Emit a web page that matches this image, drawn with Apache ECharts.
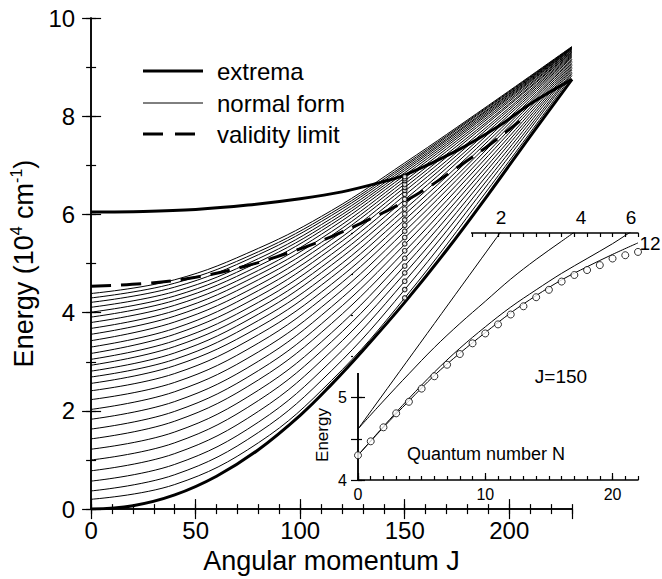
<!DOCTYPE html>
<html><head><meta charset="utf-8">
<script src="https://cdn.jsdelivr.net/npm/echarts@6.0.0/dist/echarts.min.js"></script>
<style>html,body{margin:0;padding:0;background:#fff}#c{width:662px;height:579px}</style>
</head><body><div id="c"></div>
<script>
// ---------------- DATA ----------------
// Normal-form curves: energy of each level (index 0..28) at sampled J
const fanJ = [0, 40, 80, 115, 150, 190, 230];
const fanAtJ0   = [0.20,0.37,0.57,0.78,1.00,1.22,1.43,1.63,1.83,2.03,2.23,2.41,2.56,2.69,2.81,2.93,3.05,3.17,3.30,3.43,3.56,3.68,3.80,3.91,4.01,4.11,4.21,4.30,4.39];
const fanAtJ40  = [0.50,0.70,0.91,1.13,1.35,1.57,1.79,1.99,2.19,2.39,2.58,2.76,2.92,3.05,3.18,3.31,3.43,3.56,3.68,3.81,3.93,4.04,4.15,4.25,4.34,4.43,4.52,4.60,4.67];
const fanAtJ80  = [1.35,1.56,1.77,1.99,2.21,2.42,2.63,2.82,3.01,3.20,3.38,3.55,3.70,3.84,3.97,4.09,4.21,4.33,4.45,4.56,4.67,4.77,4.86,4.95,5.03,5.10,5.18,5.24,5.31];
const fanAtJ115 = [2.62,2.82,3.02,3.22,3.41,3.59,3.78,3.95,4.12,4.28,4.44,4.58,4.72,4.84,4.97,5.08,5.19,5.30,5.39,5.49,5.57,5.65,5.73,5.80,5.86,5.92,5.98,6.03,6.08];
const fanAtJ150 = [4.30,4.47,4.64,4.80,4.955,5.105,5.25,5.39,5.525,5.655,5.775,5.89,6.00,6.105,6.205,6.30,6.39,6.475,6.55,6.62,6.685,6.745,6.80,6.85,6.895,6.935,6.975,7.01,7.05];
const fanAtJ190 = [6.52,6.63,6.73,6.83,6.93,7.02,7.11,7.20,7.28,7.36,7.43,7.50,7.57,7.64,7.70,7.76,7.81,7.87,7.91,7.96,8.00,8.04,8.07,8.10,8.13,8.15,8.18,8.20,8.22];
const fanAtJ230 = [8.83,8.87,8.90,8.94,8.97,9.00,9.03,9.06,9.09,9.12,9.15,9.17,9.20,9.22,9.24,9.26,9.28,9.30,9.31,9.33,9.34,9.36,9.37,9.38,9.39,9.40,9.40,9.41,9.42];
const fanColumns = [fanAtJ0, fanAtJ40, fanAtJ80, fanAtJ115, fanAtJ150, fanAtJ190, fanAtJ230];

// Extrema (thick) curves
const lowerJ = [0, 20, 40, 60, 80, 100, 115, 130, 150, 170, 190, 210, 230];
const lowerE = [0, 0.07, 0.29, 0.67, 1.21, 1.91, 2.54, 3.23, 4.21, 5.27, 6.41, 7.59, 8.75];
const upperJ = [0, 25, 50, 75, 100, 120, 140, 150, 175, 195, 210, 230];
const upperE = [6.05, 6.06, 6.10, 6.19, 6.32, 6.46, 6.67, 6.80, 7.30, 7.80, 8.25, 8.75];
// Validity limit (dashed)
const limitJ = [0, 25, 50, 75, 100, 115, 130, 145, 160, 175, 190, 205];
const limitE = [4.54, 4.59, 4.72, 4.96, 5.30, 5.55, 5.84, 6.15, 6.52, 6.95, 7.40, 7.90];

// Quantum levels at J = 150 (circles)
const levelJ = 150;
const quantumN = [0,1,2,3,4,5,6,7,8,9,10,11,12,13,14,15,16,17,18,19,20,21,22];
const quantumE = [4.30,4.47,4.64,4.81,4.95,5.11,5.26,5.40,5.53,5.66,5.78,5.89,6.01,6.11,6.22,6.31,6.41,6.49,6.55,6.61,6.69,6.73,6.77];

// Inset: normal-form orders 2, 4, 6, 12
const order2N = [0, 12];
const order2E = [4.62, 7.18];
const order4N = [0, 2, 4, 6, 8, 10, 12, 14, 16, 18];
const order4E = [4.62, 4.96, 5.29, 5.61, 5.90, 6.17, 6.44, 6.68, 6.90, 7.12];
const order6N = [0, 2, 4, 6, 8, 10, 12, 14, 16, 18, 20, 21, 22];
const order6E = [4.30, 4.65, 4.99, 5.31, 5.60, 5.86, 6.10, 6.31, 6.51, 6.69, 6.87, 6.97, 7.07];
const order12N = [0, 2, 4, 6, 8, 10, 12, 14, 16, 18, 20, 22];
const order12E = [4.30, 4.64, 4.96, 5.27, 5.54, 5.79, 6.03, 6.24, 6.43, 6.59, 6.74, 6.88];

const legendNames = ['extrema', 'normal form', 'validity limit'];
const xTitle = 'Angular momentum J';
const insetXTitle = 'Quantum number N';
const insetYTitle = 'Energy';
const insetNote = 'J=150';
const orderLabels = ['2', '4', '6', '12'];

// ---------------- CHART ----------------
const FONT = 'Liberation Sans, Arial, Helvetica, sans-serif';
const BLACK = '#000';
const zip = (a, b) => a.map((v, i) => [v, b[i]]);

function ax(extra) {
  const base = {
    type: 'value', z: 0,
    splitLine: { show: false },
    axisLine: { show: false, lineStyle: { color: BLACK, width: 1.5 } },
    axisTick: { show: true, inside: true, length: 5, lineStyle: { color: BLACK, width: 1.2 } },
    axisLabel: { show: false },
  };
  const out = Object.assign({}, base, extra);
  if (extra.axisTick) out.axisTick = Object.assign({}, base.axisTick, extra.axisTick);
  if (extra.axisLine) out.axisLine = Object.assign({}, base.axisLine, extra.axisLine);
  return out;
}

const xAxes = [
  ax({ gridIndex: 0, position: 'bottom', min: 0, max: 230, interval: 50,
       axisLine: { show: true }, axisTick: { length: 10 },
       axisLabel: { show: true, margin: 9, fontSize: 24, color: BLACK, fontFamily: FONT, showMaxLabel: false },
       name: xTitle, nameLocation: 'middle', nameGap: 37,
       nameTextStyle: { fontSize: 27, color: BLACK, fontFamily: FONT } }),
  ax({ gridIndex: 0, position: 'bottom', min: 0, max: 230, interval: 10 }),
  ax({ gridIndex: 0, position: 'top', min: 0, max: 230, interval: 50, axisLine: { show: true }, axisTick: { length: 10 } }),
  ax({ gridIndex: 0, position: 'top', min: 0, max: 230, interval: 10 }),
  // inset
  ax({ gridIndex: 1, position: 'bottom', min: 0, max: 22, interval: 10, z: 2,
       axisLine: { show: true }, axisTick: { length: 7 },
       axisLabel: { show: true, margin: 6, fontSize: 16, color: BLACK, fontFamily: FONT, showMaxLabel: false } }),
  ax({ gridIndex: 1, position: 'bottom', min: 0, max: 22, interval: 1, z: 2, axisTick: { length: 4 } }),
  ax({ gridIndex: 1, position: 'top', min: 0, max: 22, interval: 1, z: 2, axisLine: { show: true }, axisTick: { length: 4 } }),
];
const yAxes = [
  ax({ gridIndex: 0, position: 'left', min: 0, max: 10, interval: 2,
       axisLine: { show: true }, axisTick: { length: 10 },
       axisLabel: { show: true, margin: 16, fontSize: 24, color: BLACK, fontFamily: FONT },
       name: '{a|Energy (10}{s|4}{a| cm}{s|-1}{a|)}', nameLocation: 'middle', nameGap: 37, nameRotate: 90,
       nameTextStyle: { rich: {
         a: { fontSize: 27, color: BLACK, fontFamily: FONT, lineHeight: 32 },
         s: { fontSize: 16, color: BLACK, fontFamily: FONT, lineHeight: 16, verticalAlign: 'top' } } } }),
  ax({ gridIndex: 0, position: 'left', min: 0, max: 10, interval: 1 }),
  ax({ gridIndex: 0, position: 'right', min: 0, max: 10, interval: 2, axisLine: { show: true }, axisTick: { length: 9 } }),
  ax({ gridIndex: 0, position: 'right', min: 0, max: 10, interval: 1 }),
  // inset
  ax({ gridIndex: 1, position: 'left', min: 4, max: 7, interval: 1, z: 2,
       axisLine: { show: true }, axisTick: { length: 7 },
       axisLabel: { show: true, margin: 11, fontSize: 16, color: BLACK, fontFamily: FONT,
                    formatter: v => (v === 4 || v === 5) ? String(v) : '' } }),
  ax({ gridIndex: 1, position: 'left', min: 4, max: 7, interval: 0.5, z: 2, axisTick: { length: 4 } }),
  ax({ gridIndex: 1, position: 'right', min: 4, max: 7, interval: 0.5, z: 2, axisLine: { show: true }, axisTick: { length: 7 } }),
];

const series = [];
for (let n = 0; n < fanAtJ0.length; n++) {
  series.push({
    name: 'normal form', type: 'line', xAxisIndex: 0, yAxisIndex: 0, z: 5,
    data: fanJ.map((j, i) => [j, fanColumns[i][n]]),
    symbol: 'none', smooth: 0.4, silent: true,
    lineStyle: { color: BLACK, width: 1 }
  });
}
series.push({ name: 'extrema', type: 'line', xAxisIndex: 0, yAxisIndex: 0, z: 6,
  data: zip(lowerJ, lowerE), symbol: 'none', smooth: 0.4,
  lineStyle: { color: BLACK, width: 3 } });
series.push({ name: 'extrema', type: 'line', xAxisIndex: 0, yAxisIndex: 0, z: 6,
  data: zip(upperJ, upperE), symbol: 'none', smooth: 0.35,
  lineStyle: { color: BLACK, width: 3 } });
series.push({ name: 'validity limit', type: 'line', xAxisIndex: 0, yAxisIndex: 0, z: 6,
  data: zip(limitJ, limitE), symbol: 'none', smooth: 0.35,
  lineStyle: { color: BLACK, width: 3, type: [20, 10] } });
series.push({ name: 'levels', type: 'scatter', xAxisIndex: 0, yAxisIndex: 0, z: 7,
  data: quantumE.map(e => [levelJ, e]), symbol: 'circle', symbolSize: 4.5,
  itemStyle: { color: '#fff', borderColor: BLACK, borderWidth: 1.2 } });

const insetLine = (name, xs, ys) => ({ name, type: 'line', xAxisIndex: 4, yAxisIndex: 4, z: 5,
  data: zip(xs, ys), symbol: 'none', smooth: 0.35,
  lineStyle: { color: BLACK, width: 1 } });
series.push(insetLine('order 2', order2N, order2E));
series.push(insetLine('order 4', order4N, order4E));
series.push(insetLine('order 6', order6N, order6E));
series.push(insetLine('order 12', order12N, order12E));
series.push({ name: 'quantum', type: 'scatter', xAxisIndex: 4, yAxisIndex: 4, z: 7,
  data: zip(quantumN, quantumE), symbol: 'circle', symbolSize: 7,
  itemStyle: { color: '#fff', borderColor: BLACK, borderWidth: 1 } });

const txt = (text, x, y, size, extra, align) => Object.assign({
  type: 'text', x, y, z: 8,
  style: { text, fontSize: size, fontFamily: FONT, fill: BLACK, align: align || 'center', verticalAlign: 'middle' }
}, extra || {});
const legLine = (y, w, dash) => ({ type: 'line', z: 8,
  shape: { x1: 143, y1: y, x2: 203, y2: y },
  style: { stroke: BLACK, lineWidth: w, lineDash: dash || null } });

const option = {
  animation: false,
  backgroundColor: '#fff',
  grid: [
    { left: 86, top: 18, width: 486, height: 495 },
    { left: 358, top: 233, width: 280, height: 247 }
  ],
  xAxis: xAxes,
  yAxis: yAxes,
  graphic: [
    // hide the main frame's right edge behind the inset
    { type: 'rect', z: 1, shape: { x: 562, y: 235, width: 14, height: 243 }, style: { fill: '#fff' } },
    // hide the inset frame where the main fan lies
    { type: 'rect', z: 3, shape: { x: 353, y: 227, width: 13, height: 146 }, style: { fill: '#fff' } },
    { type: 'rect', z: 3, shape: { x: 353, y: 227, width: 118, height: 12 }, style: { fill: '#fff' } },
    // legend
    legLine(71, 3), legLine(103, 1), legLine(134, 3, [20, 12]),
    txt(legendNames[0], 217, 71, 24, null, 'left'),
    txt(legendNames[1], 217, 103, 24, null, 'left'),
    txt(legendNames[2], 217, 134, 24, null, 'left'),
    // inset texts
    txt(insetNote, 561, 376, 19),
    txt(insetXTitle, 486, 454, 18),
    txt(insetYTitle, 322, 435, 17, { rotation: Math.PI / 2 }),
    txt(orderLabels[0], 501, 217, 19),
    txt(orderLabels[1], 581, 217, 19),
    txt(orderLabels[2], 631, 217, 19),
    txt(orderLabels[3], 650, 243, 19)
  ],
  series
};

const chart = echarts.init(document.getElementById('c'), null, { renderer: 'svg' });
chart.setOption(option);
</script></body></html>
